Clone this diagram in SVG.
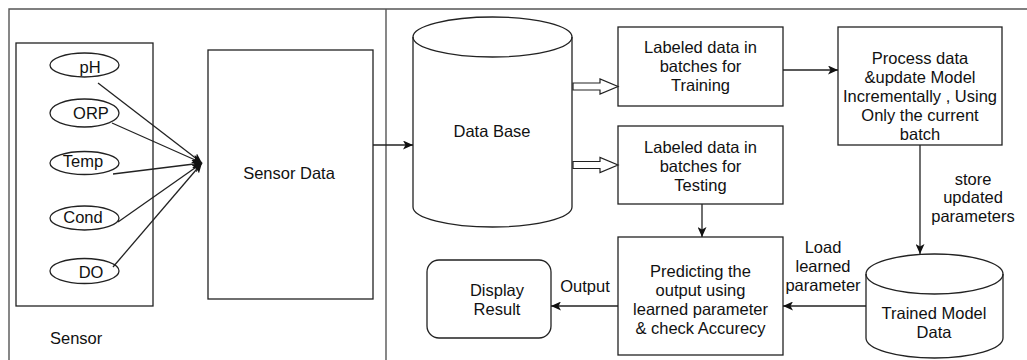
<svg xmlns="http://www.w3.org/2000/svg" width="1027" height="360" viewBox="0 0 1027 360">
  <defs>
    <style>
      .frame { fill: none; stroke: #555; stroke-width: 1.4; }
      .box { fill: #fff; stroke: #222; stroke-width: 1.3; }
      .edge { fill: none; stroke: #222; stroke-width: 1.3; }
      .hollow { fill: #fff; stroke: #222; stroke-width: 1.2; stroke-linejoin: miter; }
      text { font-family: "Liberation Sans", Arial, sans-serif; font-size: 16.5px; fill: #111; }
      .c { text-anchor: middle; }
    </style>
    <marker id="arrow" markerUnits="userSpaceOnUse" markerWidth="11" markerHeight="9" refX="10" refY="4.5" orient="auto">
      <path d="M0,0 L10,4.5 L0,9 L2.5,4.5 Z" fill="#111"/>
    </marker>
  </defs>

  <!-- outer frame and section divider -->
  <g id="frame">
    <path class="frame" d="M9,361 V9 H1028"/>
    <path class="frame" d="M386,9 V361"/>
  </g>

  <!-- sensor group -->
  <g id="sensor">
    <rect class="box" x="16" y="43" width="137" height="263"/>
    <text x="50" y="344">Sensor</text>
  </g>
  <g id="ph">
    <ellipse class="box" cx="84.5" cy="65" rx="34.5" ry="12"/>
    <text class="c" x="90" y="73">pH</text>
  </g>
  <g id="orp">
    <ellipse class="box" cx="84.5" cy="113" rx="34.5" ry="14"/>
    <text class="c" x="91" y="119">ORP</text>
  </g>
  <g id="temp">
    <ellipse class="box" cx="84.5" cy="163" rx="34.5" ry="11.5"/>
    <text class="c" x="83" y="167">Temp</text>
  </g>
  <g id="cond">
    <ellipse class="box" cx="84.5" cy="218" rx="34.5" ry="12"/>
    <text class="c" x="83" y="223">Cond</text>
  </g>
  <g id="do">
    <ellipse class="box" cx="84.5" cy="271" rx="34.5" ry="12.5"/>
    <text class="c" x="91" y="278">DO</text>
  </g>

  <g id="sensor-data">
    <rect class="box" x="208" y="50" width="165" height="249"/>
    <text class="c" x="289" y="179">Sensor Data</text>
  </g>

  <g id="database">
    <path class="box" d="M413,37 V207 A79.5,20 0 0 0 572,207 V37 A79.5,20 0 0 0 413,37 Z"/>
    <path class="edge" d="M413,37 A79.5,20 0 0 0 572,37"/>
    <text class="c" x="492" y="137">Data Base</text>
  </g>

  <g id="train-batches">
    <rect class="box" x="618" y="27" width="165" height="79"/>
    <text class="c" x="700.5" y="53">Labeled data in</text>
    <text class="c" x="700.5" y="72">batches for</text>
    <text class="c" x="700.5" y="91">Training</text>
  </g>

  <g id="test-batches">
    <rect class="box" x="618" y="126" width="165" height="78"/>
    <text class="c" x="700.5" y="153">Labeled data in</text>
    <text class="c" x="700.5" y="172">batches for</text>
    <text class="c" x="700.5" y="191">Testing</text>
  </g>

  <g id="process">
    <rect class="box" x="838" y="27" width="164" height="118"/>
    <text class="c" x="920" y="64">Process data</text>
    <text class="c" x="920" y="83">&amp;update Model</text>
    <text class="c" x="920" y="102">Incrementally , Using</text>
    <text class="c" x="920" y="121">Only the current</text>
    <text class="c" x="920" y="140">batch</text>
  </g>

  <g id="trained-model">
    <path class="box" d="M866,274 V338 A68.5,20 0 0 0 1003,338 V274 A68.5,20 0 0 0 866,274 Z"/>
    <path class="edge" d="M866,274 A68.5,20 0 0 0 1003,274"/>
    <text class="c" x="934" y="319">Trained Model</text>
    <text class="c" x="934" y="338">Data</text>
  </g>

  <g id="predict">
    <rect class="box" x="618" y="237" width="165" height="118"/>
    <text class="c" x="700.5" y="277">Predicting the</text>
    <text class="c" x="700.5" y="296">output using</text>
    <text class="c" x="700.5" y="315">learned parameter</text>
    <text class="c" x="700.5" y="334">&amp; check Accurecy</text>
  </g>

  <g id="display">
    <rect class="box" x="427" y="260" width="124" height="78" rx="12" ry="12"/>
    <text class="c" x="497" y="296">Display</text>
    <text class="c" x="497" y="315">Result</text>
  </g>

  <!-- connectors -->
  <g id="connectors">
    <path class="edge" d="M98,83 L202,163" marker-end="url(#arrow)"/>
    <path class="edge" d="M112,123 L202,163" marker-end="url(#arrow)"/>
    <path class="edge" d="M113,174 L202,163" marker-end="url(#arrow)"/>
    <path class="edge" d="M118,222 L202,163" marker-end="url(#arrow)"/>
    <path class="edge" d="M113,267 L202,163" marker-end="url(#arrow)"/>
    <path class="edge" d="M373,145 L413,145" marker-end="url(#arrow)"/>
    <path class="hollow" d="M573,83 H600 V79 L618,86.5 L600,94 V90 H573 Z"/>
    <path class="hollow" d="M573,161.5 H600 V157.5 L618,165 L600,172.5 V168.5 H573 Z"/>
    <path class="edge" d="M783,70 L838,70" marker-end="url(#arrow)"/>
    <path class="edge" d="M920,145 L920,254" marker-end="url(#arrow)"/>
    <path class="edge" d="M702,204 L702,237" marker-end="url(#arrow)"/>
    <path class="edge" d="M866,306 L783,306" marker-end="url(#arrow)"/>
    <path class="edge" d="M618,306 L551,306" marker-end="url(#arrow)"/>
    <text class="c" x="973" y="185">store</text>
    <text class="c" x="973" y="203">updated</text>
    <text class="c" x="973" y="222">parameters</text>
    <text class="c" x="823" y="253">Load</text>
    <text class="c" x="823" y="272">learned</text>
    <text class="c" x="823" y="291">parameter</text>
    <text class="c" x="585" y="292">Output</text>
  </g>
</svg>
